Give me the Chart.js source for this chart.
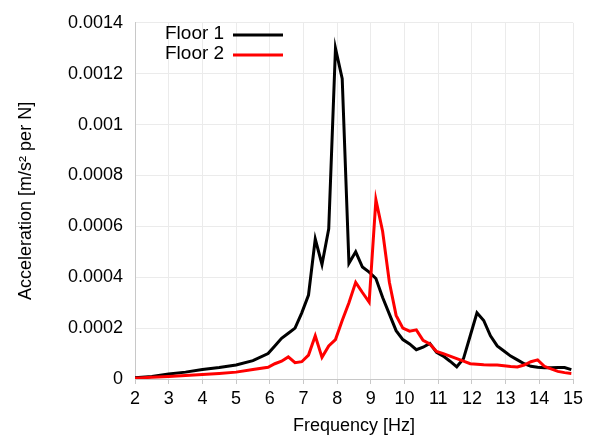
<!DOCTYPE html>
<html>
<head>
<meta charset="utf-8">
<script src="https://cdn.jsdelivr.net/npm/chart.js@4"></script>
<style>
  html, body { margin: 0; padding: 0; background: #fff; }
  #wrap { width: 590px; height: 440px; }
</style>
</head>
<body>
<div id="wrap"><canvas id="chart" width="590" height="440"></canvas></div>
<script>
// frequency points [Hz]
const freq = [2, 2.5, 3, 3.5, 4, 4.5, 5, 5.5, 5.95, 6.15, 6.35, 6.55, 6.75, 6.95, 7.15, 7.35, 7.55, 7.75,
    7.95, 8.15, 8.35, 8.55, 8.75, 8.95, 9.15, 9.35, 9.55, 9.75, 9.95, 10.15, 10.35, 10.55, 10.75, 10.95,
    11.15, 11.35, 11.55, 11.75, 11.95, 12.15, 12.35, 12.55, 12.75, 12.95, 13.15, 13.35, 13.55, 13.75,
    13.95, 14.15, 14.35, 14.55, 14.75, 14.95];

const floor1 = [0.000005, 0.00001, 0.00002, 0.000027, 0.000037, 0.000045, 0.000055, 0.000072, 0.0001,
    0.00013, 0.00016, 0.00018, 0.0002, 0.00026, 0.00033, 0.00055, 0.00045, 0.00059,
    0.0013, 0.00118, 0.000455, 0.0005, 0.00044, 0.00042, 0.000395, 0.00032, 0.000255, 0.00019,
    0.000155, 0.000138, 0.000115, 0.000125, 0.00014, 0.000105,
    0.00009, 0.00007, 0.000048, 0.00008, 0.00017, 0.00026, 0.00023, 0.00017, 0.00013, 0.00011,
    0.00009, 0.000075, 0.00006, 0.00005, 0.000046, 0.000044, 0.000044, 0.000045, 0.000045, 0.000037];

const floor2 = [0.000003, 0.000007, 0.00001, 0.000014, 0.000018, 0.000022, 0.000027, 0.000037, 0.000046,
    0.00006, 0.00007, 0.000087, 0.000064, 0.000068, 0.000094, 0.00017, 0.000085, 0.00013,
    0.000155, 0.00023, 0.0003, 0.00038, 0.00034, 0.000302, 0.000705, 0.00058, 0.00038, 0.00025,
    0.0002, 0.000188, 0.000193, 0.000152, 0.000138, 0.000108,
    0.0001, 0.00009, 0.00008, 0.00007, 0.00006, 0.000058, 0.000056, 0.000055, 0.000055, 0.000052,
    0.000049, 0.000047, 0.000055, 0.000068, 0.000075, 0.00005, 0.00004, 0.00003, 0.000025, 0.000022];

const seriesLabels = ['Floor 1', 'Floor 2'];
const seriesColors = ['#000000', '#ff0000'];

const xMin = 2, xMax = 15, xStep = 1;
const yMin = 0, yMax = 0.0014, yStep = 0.0002;

const FONT = 'Liberation Sans, Arial, sans-serif';

function toPoints(values) {
    return values.map((v, i) => ({ x: freq[i], y: v }));
}

// legend drawn inside the plot: text first, line sample after it
const insideLegend = {
    id: 'insideLegend',
    afterDraw(chart) {
        const ctx = chart.ctx;
        ctx.save();
        ctx.font = '19px ' + FONT;
        ctx.textBaseline = 'middle';
        ctx.textAlign = 'left';
        chart.data.datasets.forEach((ds, i) => {
            const y = 34 + i * 20;
            ctx.fillStyle = '#000';
            ctx.fillText(ds.label, 165, y);
            ctx.strokeStyle = ds.borderColor;
            ctx.lineWidth = 3;
            ctx.beginPath();
            ctx.moveTo(233, y + 1);
            ctx.lineTo(283, y + 1);
            ctx.stroke();
        });
        ctx.restore();
    }
};

// red drawn over black
const datasets = [floor1, floor2].map((vals, i) => ({
    label: seriesLabels[i],
    data: toPoints(vals),
    borderColor: seriesColors[i],
    backgroundColor: seriesColors[i],
    borderWidth: 3,
    pointRadius: 0,
    tension: 0,
    fill: false,
    order: 1 - i
}));

new Chart(document.getElementById('chart'), {
    type: 'line',
    data: { datasets: datasets },
    options: {
        responsive: false,
        animation: false,
        layout: { padding: { top: 21, right: 17, left: 0, bottom: 0 } },
        plugins: {
            legend: { display: false },
            tooltip: { enabled: false }
        },
        scales: {
            x: {
                type: 'linear',
                min: xMin,
                max: xMax,
                ticks: {
                    stepSize: xStep,
                    color: '#000',
                    font: { family: FONT, size: 18 },
                    padding: 4,
                    maxRotation: 0
                },
                grid: {
                    color: '#ebebeb',
                    tickColor: '#c8c8c8',
                    tickLength: 5
                },
                border: { color: '#c8c8c8' },
                title: {
                    display: true,
                    text: 'Frequency [Hz]',
                    color: '#000',
                    font: { family: FONT, size: 18 },
                    padding: { top: 0, bottom: 3 }
                },
                afterFit(scale) { scale.height = 61; }
            },
            y: {
                min: yMin,
                max: yMax,
                ticks: {
                    stepSize: yStep,
                    color: '#000',
                    font: { family: FONT, size: 18 },
                    padding: 12,
                    callback: v => Number(v.toFixed(4)).toString()
                },
                grid: {
                    color: '#ebebeb',
                    drawTicks: false
                },
                border: { color: '#c8c8c8' },
                title: {
                    display: true,
                    text: 'Acceleration [m/s\u00B2 per N]',
                    color: '#000',
                    font: { family: FONT, size: 18 },
                    padding: { top: 15, bottom: 0 }
                },
                afterFit(scale) { scale.width = 135; }
            }
        }
    },
    plugins: [insideLegend]
});
</script>
</body>
</html>
